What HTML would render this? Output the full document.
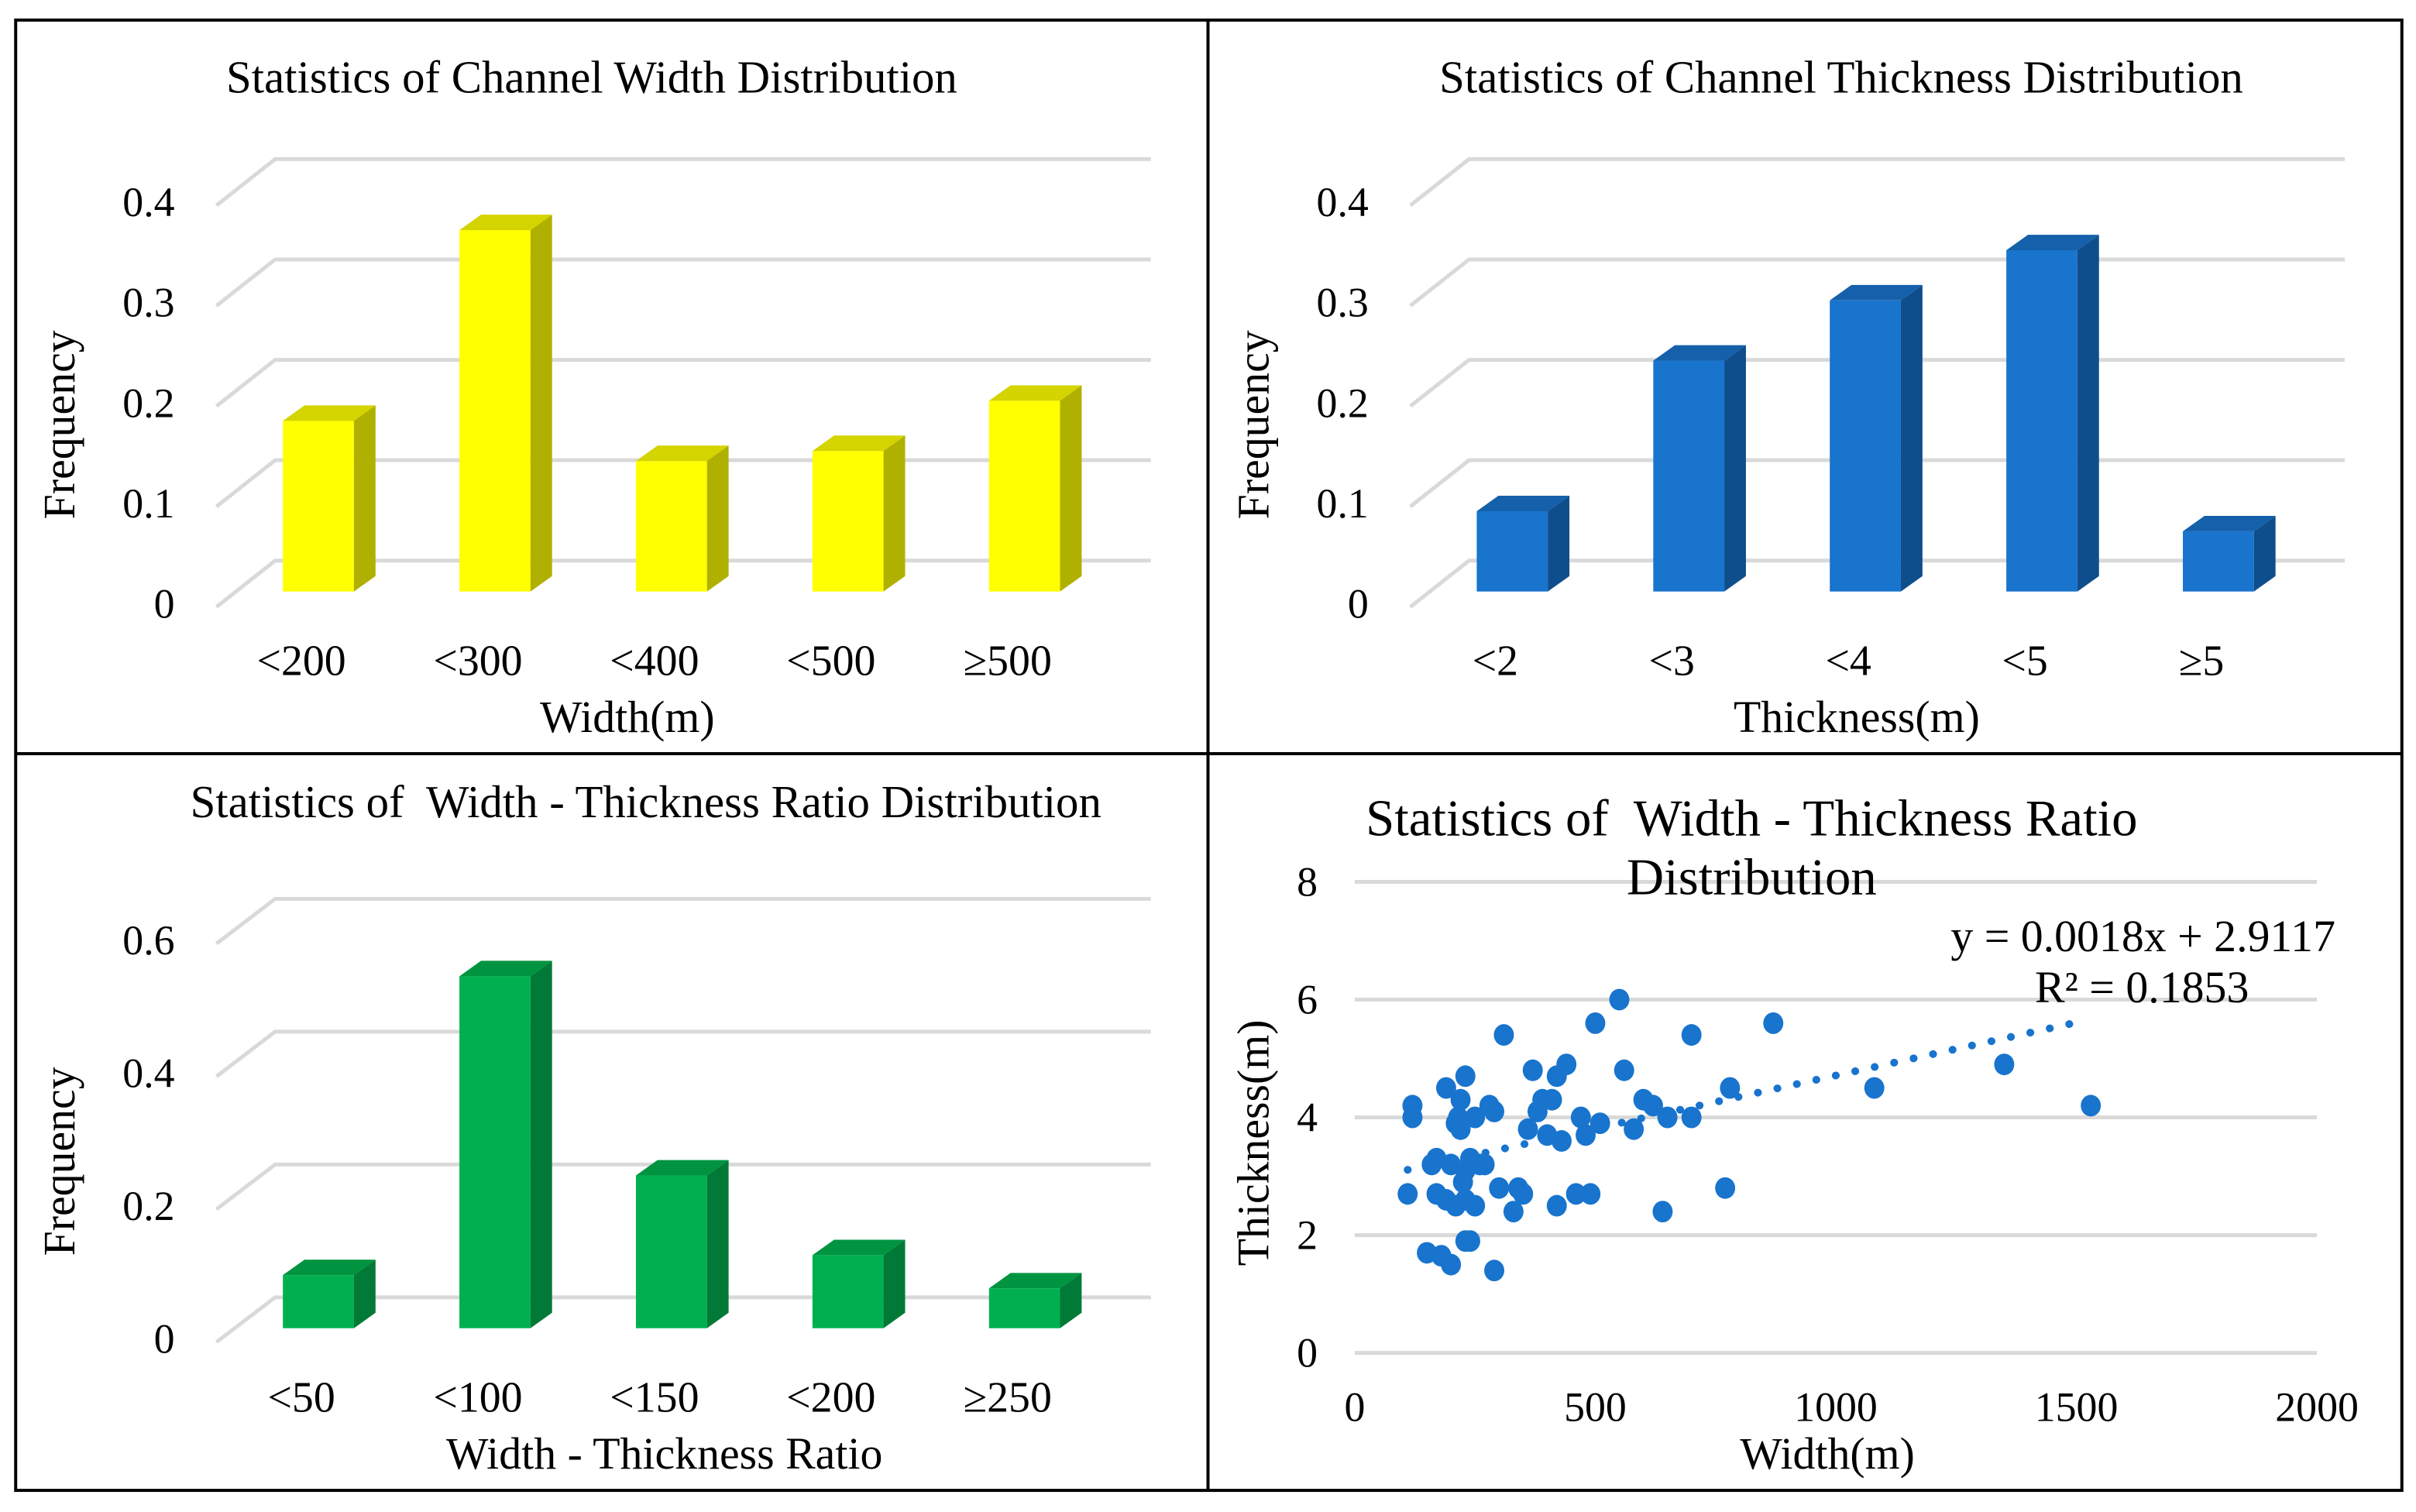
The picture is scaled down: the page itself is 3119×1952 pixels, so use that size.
<!DOCTYPE html>
<html><head><meta charset="utf-8"><style>
html,body{margin:0;padding:0;background:#fff}
svg{display:block}
text{font-family:"Liberation Serif",serif;fill:#000;white-space:pre}
</style></head><body>
<svg id="s" width="3119" height="1952" viewBox="0 0 1564 979" xmlns="http://www.w3.org/2000/svg">
<rect x="0" y="0" width="1564" height="979" fill="#fff"/>
<g fill="none" stroke="#000" stroke-width="2">
<rect x="10" y="13" width="1545" height="952"/>
<line x1="782" y1="13" x2="782" y2="965"/>
<line x1="10" y1="488" x2="1555" y2="488"/>
</g>
<g id="g1"></g>
<g id="g2"></g>
<g id="g3"></g>
<g id="g4"></g>
</svg>
<script>
const widthCats=["<200","<300","<400","<500","≥500"];
const widthVals=[0.17,0.36,0.13,0.14,0.19];
const widthTicks=[0,0.1,0.2,0.3,0.4];
const thickCats=["<2","<3","<4","<5","≥5"];
const thickVals=[0.08,0.23,0.29,0.34,0.06];
const ratioCats=["<50","<100","<150","<200","≥250"];
const ratioVals=[0.08,0.53,0.23,0.11,0.06];
const ratioTicks=[0,0.2,0.4,0.6];
const scatterX=[110,120,120,150,160,170,170,180,190,190,200,200,210,210,215,220,220,225,230,230,230,230,240,240,250,250,260,270,280,290,290,300,310,330,340,350,360,370,380,390,400,410,420,420,430,440,460,470,480,490,500,510,550,560,580,600,620,640,650,700,700,770,780,870,1080,1350,1530];
const scatterY=[2.7,4.0,4.2,1.7,3.2,3.3,2.7,1.65,4.5,2.6,3.2,1.5,3.9,2.5,4.0,3.8,4.3,2.9,1.9,4.7,3.1,2.6,3.3,1.9,4.0,2.5,3.2,3.2,4.2,1.4,4.1,2.8,5.4,2.4,2.8,2.7,3.8,4.8,4.1,4.3,3.7,4.3,2.5,4.7,3.6,4.9,2.7,4.0,3.7,2.7,5.6,3.9,6.0,4.8,3.8,4.3,4.2,2.4,4.0,5.4,4.0,2.8,4.5,5.6,4.5,4.9,4.2];
const scatterXTicks=[0,500,1000,1500,2000];
const scatterYTicks=[0,2,4,6,8];
const trendSlope=0.0018, trendIntercept=2.9117;

const NS="http://www.w3.org/2000/svg";
function mk(parent,tag,attrs,txt){const e=document.createElementNS(NS,tag);for(const k in attrs)e.setAttribute(k,attrs[k]);if(txt!==undefined)e.textContent=txt;parent.appendChild(e);return e;}

function barChart(g,o){
  const ox=o.ox;
  const yBack=v=>o.back0-v*o.scale, yFront=v=>o.front0-v*o.scale;
  o.ticks.forEach(t=>{
    const gl=mk(g,'polyline',{points:`${ox+140},${o.label0-t*o.scale+2} ${ox+178},${yBack(t)} ${ox+745},${yBack(t)}`,fill:'none',stroke:'#d9d9d9','stroke-width':2.5});
    
    
    const tl=mk(g,'text',{x:ox+113,y:o.label0-t*o.scale+9,'text-anchor':'end','font-size':27},String(t));
    
    
  });
  o.vals.forEach((v,i)=>{
    const x=ox+183+i*114.3, w=46, top=yFront(v), bot=o.front0;
    const bg=mk(g,'g',{});
    
    
    mk(bg,'rect',{x:x,y:top,width:w,height:bot-top,fill:o.c[0]});
    mk(bg,'polygon',{points:`${x+w},${top} ${x+w+14},${top-10} ${x+w+14},${bot-10} ${x+w},${bot}`,fill:o.c[1]});
    mk(bg,'polygon',{points:`${x},${top} ${x+14},${top-10} ${x+w+14},${top-10} ${x+w},${top}`,fill:o.c[2]});
    const cl=mk(g,'text',{x:x+w/2-11,y:o.catY,'text-anchor':'middle','font-size':28},o.cats[i]);
    
    
  });
  const t=mk(g,'text',{x:ox+o.titleX,y:o.titleY,'text-anchor':'middle','font-size':29.5},o.title);
  
  
  const xt=mk(g,'text',{x:ox+o.xtX,y:o.xtY,'text-anchor':'middle','font-size':29},o.xtitle);
  
  
  const yt=mk(g,'text',{x:0,y:0,'text-anchor':'middle','font-size':29,transform:`translate(${ox+48},${o.ytY}) rotate(-90)`},'Frequency');
  
  
}
barChart(document.getElementById('g1'),{ox:0,vals:widthVals,cats:widthCats,ticks:widthTicks,scale:650,back0:363,front0:383,label0:391,c:['#ffff00','#b0b000','#d4d400'],catY:437,title:'Statistics of Channel Width Distribution',titleX:383,titleY:60,xtitle:'Width(m)',xtX:406,xtY:474,ytY:275});
barChart(document.getElementById('g2'),{ox:773,vals:thickVals,cats:thickCats,ticks:widthTicks,scale:650,back0:363,front0:383,label0:391,c:['#1874cd','#0f4e8c','#1560aa'],catY:437,title:'Statistics of Channel Thickness Distribution',titleX:419,titleY:60,xtitle:'Thickness(m)',xtX:429,xtY:474,ytY:275});
barChart(document.getElementById('g3'),{ox:0,vals:ratioVals,cats:ratioCats,ticks:ratioTicks,scale:430,back0:840,front0:860,label0:867,c:['#00b050','#007a36','#009440'],catY:914,title:'Statistics of  Width - Thickness Ratio Distribution',titleX:418,titleY:529,xtitle:'Width - Thickness Ratio',xtX:430,xtY:951,ytY:752});

(function(){
  const g=document.getElementById('g4');
  const X=v=>877+v*(1500-877)/2000, Y=v=>876-v*(876-571)/8;
  scatterYTicks.forEach(t=>{
    const l=mk(g,'line',{x1:877,x2:1500,y1:Y(t),y2:Y(t),stroke:'#d9d9d9','stroke-width':2.5});
    
    
    const tl=mk(g,'text',{x:853,y:Y(t)+9,'text-anchor':'end','font-size':27},String(t));
    
    
  });
  scatterXTicks.forEach(t=>{
    const tl=mk(g,'text',{x:X(t),y:920,'text-anchor':'middle','font-size':27},String(t));
    
    
  });
  scatterX.forEach((x,i)=>{
    const c=mk(g,'ellipse',{cx:X(x),cy:Y(scatterY[i]),rx:6.5,ry:7,fill:'#1874cd'});
    
    
  });
  const x0=110,x1=1500;
  const tr=mk(g,'line',{x1:X(x0),y1:Y(trendSlope*x0+trendIntercept),x2:X(x1),y2:Y(trendSlope*x1+trendIntercept),stroke:'#1874cd','stroke-width':5,'stroke-dasharray':'0.1 12.8','stroke-linecap':'round'});
  
  
  const t1=mk(g,'text',{x:1134,y:541,'text-anchor':'middle','font-size':33.5},'Statistics of  Width - Thickness Ratio');
  
  
  const t2=mk(g,'text',{x:1134,y:579,'text-anchor':'middle','font-size':33.5},'Distribution');
  
  
  const e1=mk(g,'text',{x:1512,y:616,'text-anchor':'end','font-size':29},'y = 0.0018x + 2.9117');
  
  
  const e2=mk(g,'text',{x:1456,y:649,'text-anchor':'end','font-size':29},'R² = 0.1853');
  
  
  const xt=mk(g,'text',{x:1183,y:951,'text-anchor':'middle','font-size':29},'Width(m)');
  
  
  const yt=mk(g,'text',{x:0,y:0,'text-anchor':'middle','font-size':29,transform:'translate(821,740) rotate(-90)'},'Thickness(m)');
  
  
})();
</script>
</body></html>
